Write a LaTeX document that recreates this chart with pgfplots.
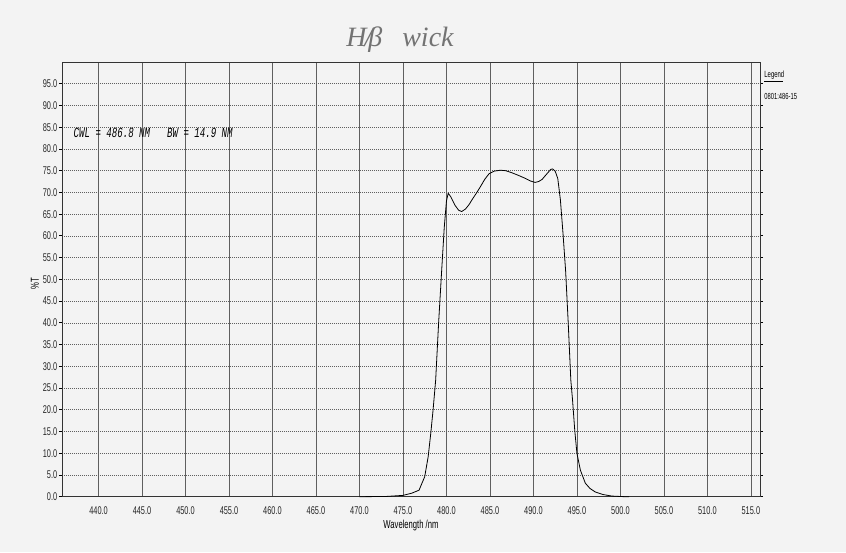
\documentclass[border=0pt]{standalone}
\usepackage{pgfplots}
\pgfplotsset{compat=1.18}
\usepackage{fontspec}
\setmainfont{Liberation Sans}[FakeStretch=0.66]
\newfontfamily\monofam{Liberation Mono}[FakeStretch=0.65]
\newfontfamily\handfont{Liberation Serif}
\definecolor{pagebg}{RGB}{243,243,243}
\definecolor{gridc}{RGB}{95,95,95}
\pgfplotstableread{
x y
470.0 0.0
473.0 0.05
475.0 0.3
476.0 0.8
476.85 1.5
477.5 4.6
477.9 9.2
478.2 14.6
478.46 19.9
478.76 26.8
479.1 40.0
479.45 52.0
479.75 62.0
480.0 68.0
480.2 69.8
480.5 69.0
481.0 67.0
481.4 65.9
481.75 65.6
482.2 66.2
482.6 67.2
483.0 68.5
483.5 70.0
483.9 71.3
484.4 73.0
484.9 74.3
485.5 74.9
486.2 75.1
486.8 75.0
487.55 74.5
488.3 73.9
489.1 73.2
489.7 72.6
490.2 72.3
490.6 72.5
491.0 73.0
491.6 74.4
492.0 75.3
492.2 75.4
492.5 74.9
492.8 73.2
493.1 68.3
493.4 60.6
493.7 52.0
494.0 40.0
494.3 26.8
494.5 22.2
494.75 15.3
495.0 10.0
495.4 6.1
495.97 3.1
496.5 1.9
497.1 1.1
498.0 0.5
499.0 0.15
500.5 0.0
501.0 0.0
}\curve
\begin{document}
\begin{tikzpicture}
\fill[pagebg] (-31pt,-27.65pt) rectangle (392pt,248.35pt);
\begin{axis}[
  scale only axis,
  width=349pt, height=217.35pt,
  xmin=435.8, xmax=516.05,
  ymin=0, ymax=100,
  xtick={440,445,...,515},
  ytick={0,5,...,95},
  /pgf/number format/assume math mode=true,
  /pgf/number format/fixed,
  /pgf/number format/fixed zerofill,
  /pgf/number format/precision=1,
  tick label style={font=\fontsize{5.6}{6.5}\selectfont, text=black!85},
  yticklabel style={inner sep=0.6pt},
  xticklabel style={inner sep=0pt, yshift=-3.2pt},
  tick align=outside,
  major tick length=1.6pt,
  xtick style={draw=none},
  ytick style={black, line width=0.4pt},
  grid=major,
  major grid style={gridc, line width=0.3pt, dash pattern=on 0.7pt off 0.3pt},
  axis line style={black!80, line width=0.45pt},
  xlabel={Wavelength /nm},
  ylabel={\%T},
  label style={font=\fontsize{5.8}{6.5}\selectfont},
  xlabel style={at={(axis description cs:0.5,0)}, anchor=center, yshift=-14.6pt},
  ylabel style={at={(axis description cs:-0.0387,0.49)}, anchor=center},
  clip=false,
]
\addplot[black, line width=0.4pt] table[x=x, y=y] {\curve};
\node[anchor=west, inner sep=0pt, font=\monofam\itshape\fontsize{7}{8}\selectfont] at (axis cs:437.1,83.7) {CWL = 486.8 NM\hspace{8.5pt}BW = 14.9 NM};
\end{axis}
\node[anchor=west, inner sep=0pt, font=\fontsize{4.5}{5}\selectfont] (lg) at (351pt,211pt) {Legend};
\draw[line width=0.35pt] (lg.south west) ++(0,-1.2pt) -- ++(9.3pt,0);
\node[anchor=west, inner sep=0pt, font=\fontsize{4.4}{5}\selectfont] at (351pt,200.2pt) {0801:486-15};
\node[anchor=center, inner sep=0pt, text=black!55, font=\handfont\itshape\fontsize{14}{16}\selectfont] at (169pt,228.3pt) {H\kern-1pt/\kern-2ptβ\hspace{10pt}wick};
\end{tikzpicture}
\end{document}
